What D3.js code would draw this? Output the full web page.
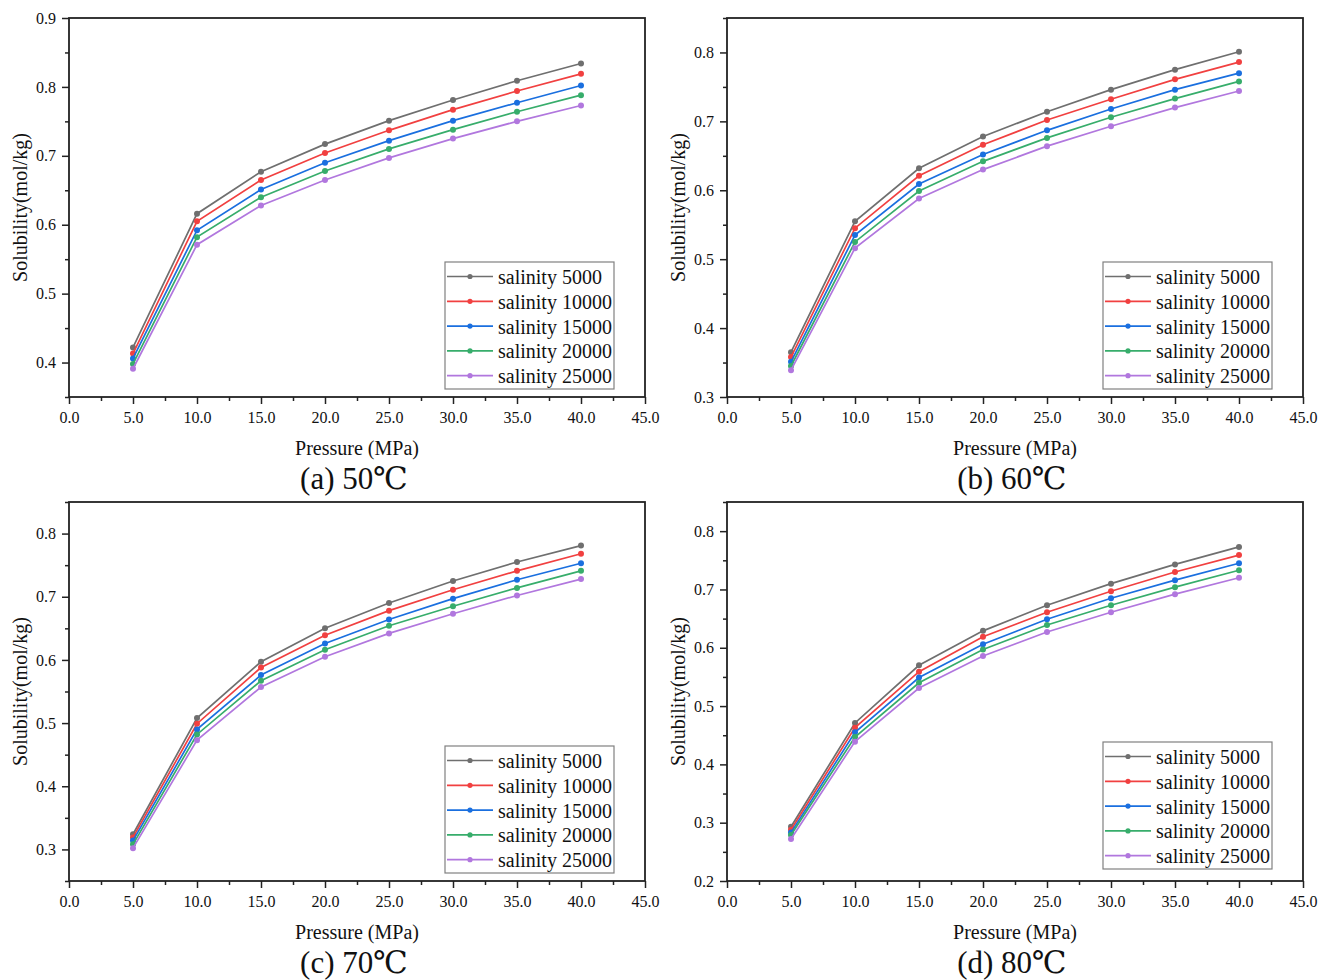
<!DOCTYPE html>
<html>
<head>
<meta charset="utf-8">
<script src="https://cdn.jsdelivr.net/npm/d3@7"></script>
<style>
  body { margin: 0; background: #fff; }
  svg text { font-family: "Liberation Serif", "Times New Roman", "DejaVu Serif", serif; fill: #111; }
</style>
</head>
<body>
<div id="chart-area"></div>
<script>
const pressure = [5, 10, 15, 20, 25, 30, 35, 40];
const seriesNames = ["salinity 5000", "salinity 10000", "salinity 15000", "salinity 20000", "salinity 25000"];
const seriesColors = ["#6f6f6f", "#f14040", "#1a6fdf", "#37ad6b", "#b177de"];

const sol50 = [
  [0.422, 0.616, 0.677, 0.717, 0.751, 0.781, 0.809, 0.834],
  [0.413, 0.605, 0.665, 0.704, 0.737, 0.767, 0.794, 0.819],
  [0.406, 0.592, 0.651, 0.690, 0.722, 0.751, 0.777, 0.802],
  [0.398, 0.582, 0.640, 0.678, 0.710, 0.738, 0.764, 0.788],
  [0.391, 0.571, 0.628, 0.665, 0.697, 0.725, 0.750, 0.773]
];
const sol60 = [
  [0.365, 0.555, 0.632, 0.678, 0.714, 0.746, 0.775, 0.801],
  [0.358, 0.545, 0.621, 0.666, 0.702, 0.732, 0.761, 0.786],
  [0.351, 0.535, 0.609, 0.652, 0.687, 0.718, 0.746, 0.770],
  [0.345, 0.525, 0.599, 0.642, 0.676, 0.706, 0.733, 0.758],
  [0.339, 0.516, 0.588, 0.630, 0.664, 0.693, 0.720, 0.744]
];
const sol70 = [
  [0.324, 0.508, 0.597, 0.650, 0.690, 0.725, 0.755, 0.781],
  [0.319, 0.499, 0.588, 0.639, 0.678, 0.711, 0.741, 0.768],
  [0.314, 0.490, 0.576, 0.626, 0.664, 0.697, 0.727, 0.753],
  [0.308, 0.482, 0.567, 0.616, 0.654, 0.685, 0.714, 0.741],
  [0.302, 0.473, 0.557, 0.605, 0.642, 0.673, 0.702, 0.728]
];
const sol80 = [
  [0.293, 0.471, 0.570, 0.629, 0.673, 0.710, 0.743, 0.773],
  [0.288, 0.463, 0.559, 0.619, 0.661, 0.697, 0.730, 0.759],
  [0.283, 0.455, 0.549, 0.606, 0.649, 0.685, 0.716, 0.745],
  [0.279, 0.447, 0.540, 0.597, 0.639, 0.673, 0.704, 0.733],
  [0.272, 0.439, 0.531, 0.586, 0.627, 0.661, 0.692, 0.720]
];

const xTicks = [0, 5, 10, 15, 20, 25, 30, 35, 40, 45];
const captions = ["(a) 50℃", "(b) 60℃", "(c) 70℃", "(d) 80℃"];
const yDomains = [[0.35, 0.9], [0.3, 0.85], [0.25, 0.85], [0.2, 0.85]];
const yTicks = [
  [0.4, 0.5, 0.6, 0.7, 0.8, 0.9],
  [0.3, 0.4, 0.5, 0.6, 0.7, 0.8],
  [0.3, 0.4, 0.5, 0.6, 0.7, 0.8],
  [0.2, 0.3, 0.4, 0.5, 0.6, 0.7, 0.8]
];
const panelData = [sol50, sol60, sol70, sol80];

const svg = d3.select("#chart-area")
              .append("svg")
              .attr("width", 1319)
              .attr("height", 980);

const plotWidth = 576;
const plotHeight = 379;
const origins = [[69, 18], [727, 18], [69, 502], [727, 502]];
const legendBottomGap = [8, 8, 8, 12];

const drawPanel = (k) => {
  const [left, top] = origins[k];
  const g = svg.append("g")
               .attr("transform", "translate(" + left + "," + top + ")");

  const x = d3.scaleLinear().domain([0, 45]).range([0, plotWidth]);
  const y = d3.scaleLinear().domain(yDomains[k]).range([plotHeight, 0]);

  // minor ticks first, then the labelled ones
  const xMinor = d3.range(2.5, 45, 5);
  const yMinor = d3.range(Math.round(yDomains[k][0] * 100), Math.round(yDomains[k][1] * 100) + 1, 5)
                   .map(v => v / 100)
                   .filter(v => !yTicks[k].some(t => Math.abs(t - v) < 1e-6));

  g.append("g")
   .attr("transform", "translate(0," + plotHeight + ")")
   .call(d3.axisBottom(x).tickValues(xMinor).tickSize(4).tickFormat(""))
   .call(a => a.select(".domain").remove())
   .selectAll("line").attr("stroke", "#222").attr("stroke-width", 1.5);

  g.append("g")
   .call(d3.axisLeft(y).tickValues(yMinor).tickSize(4).tickFormat(""))
   .call(a => a.select(".domain").remove())
   .selectAll("line").attr("stroke", "#222").attr("stroke-width", 1.5);

  const xAxis = g.append("g")
                 .attr("transform", "translate(0," + plotHeight + ")")
                 .call(d3.axisBottom(x).tickValues(xTicks).tickSize(7).tickPadding(8).tickFormat(d3.format(".1f")));
  xAxis.select(".domain").remove();
  xAxis.selectAll("line").attr("stroke", "#222").attr("stroke-width", 1.5);
  xAxis.selectAll("text").attr("font-size", 16).attr("font-family", "Liberation Serif").attr("fill", "#111");

  const yAxis = g.append("g")
                 .call(d3.axisLeft(y).tickValues(yTicks[k]).tickSize(7).tickPadding(6).tickFormat(d3.format(".1f")));
  yAxis.select(".domain").remove();
  yAxis.selectAll("line").attr("stroke", "#222").attr("stroke-width", 1.5);
  yAxis.selectAll("text").attr("font-size", 16).attr("font-family", "Liberation Serif").attr("fill", "#111");

  g.append("rect")
   .attr("width", plotWidth)
   .attr("height", plotHeight)
   .attr("fill", "none")
   .attr("stroke", "#222")
   .attr("stroke-width", 1.8);

  const line = d3.line()
                 .x((d, i) => x(pressure[i]))
                 .y(d => y(d));

  panelData[k].forEach((vals, s) => {
    g.append("path")
     .datum(vals)
     .attr("d", line)
     .attr("fill", "none")
     .attr("stroke", seriesColors[s])
     .attr("stroke-width", 1.7);

    g.append("g")
     .selectAll("circle")
     .data(vals)
     .enter()
     .append("circle")
     .attr("cx", (d, i) => x(pressure[i]))
     .attr("cy", d => y(d))
     .attr("r", 3)
     .attr("fill", seriesColors[s]);
  });

  // legend
  const lw = 169, lh = 127;
  const lg = g.append("g")
              .attr("transform", "translate(" + (plotWidth - 31 - lw) + "," + (plotHeight - legendBottomGap[k] - lh) + ")");
  lg.append("rect")
    .attr("width", lw)
    .attr("height", lh)
    .attr("fill", "#fff")
    .attr("stroke", "#808080")
    .attr("stroke-width", 1.2);

  seriesNames.forEach((name, s) => {
    const ry = 14.5 + s * 24.8;
    lg.append("line")
      .attr("x1", 2).attr("x2", 48)
      .attr("y1", ry).attr("y2", ry)
      .attr("stroke", seriesColors[s])
      .attr("stroke-width", 1.7);
    lg.append("circle")
      .attr("cx", 25).attr("cy", ry).attr("r", 2.6)
      .attr("fill", seriesColors[s]);
    lg.append("text")
      .attr("x", 53).attr("y", ry + 7.5)
      .attr("font-size", 20)
      .text(name);
  });

  g.append("text")
   .attr("text-anchor", "middle")
   .attr("transform", "translate(-42," + (plotHeight / 2) + ") rotate(-90)")
   .attr("font-size", 20)
   .text("Solubility(mol/kg)");

  g.append("text")
   .attr("text-anchor", "middle")
   .attr("x", plotWidth / 2)
   .attr("y", plotHeight + 58)
   .attr("font-size", 20)
   .text("Pressure (MPa)");

  g.append("text")
   .attr("text-anchor", "middle")
   .attr("x", plotWidth / 2 - 3)
   .attr("y", plotHeight + 92)
   .attr("font-size", 31)
   .text(captions[k]);
};

[0, 1, 2, 3].forEach(drawPanel);
</script>
</body>
</html>
